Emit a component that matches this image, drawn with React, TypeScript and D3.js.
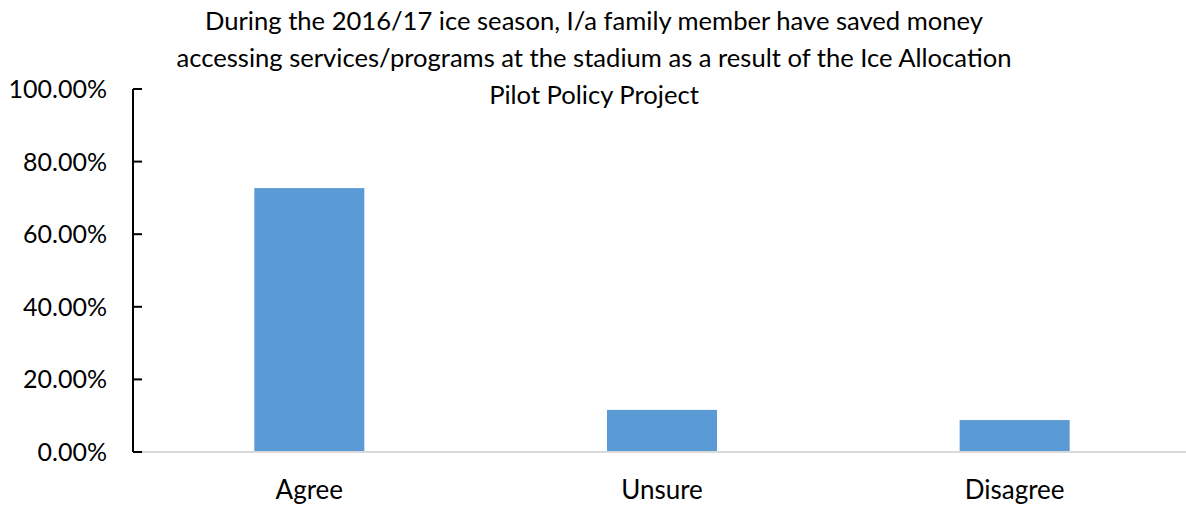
import React from "react";
import * as d3 from "d3";

const categories = ["Agree", "Unsure", "Disagree"];
const values = [0.727, 0.116, 0.088];
const yTicks = [0, 0.2, 0.4, 0.6, 0.8, 1.0];
const titleLines = [
  "During the 2016/17 ice season, I/a family member have saved money",
  "accessing services/programs at the stadium as a result of the Ice Allocation",
  "Pilot Policy Project",
];

const W = 1186;
const H = 506;
const FONT = "Lato, 'Open Sans', sans-serif";

export default function App() {
  const x = d3.scaleBand<string>().domain(categories).range([133, 1191]).paddingInner(0.688).paddingOuter(0.344);
  const y = d3.scaleLinear().domain([0, 1]).range([452, 89]);
  const fmt = d3.format(".2%");
  return (
    <svg width={W} height={H} style={{ position: "absolute", left: 0, top: 0, background: "#fff" }} fontFamily={FONT}>
      {titleLines.map((t, i) => (
        <text key={i} x={594} y={30 + i * 37} textAnchor="middle" fontSize={25.6} fill="#000">
          {t}
        </text>
      ))}
      {categories.map((c, i) => (
        <rect key={c} x={x(c)} y={y(values[i])} width={x.bandwidth()} height={y(0) - y(values[i])} fill="#5b9bd5" />
      ))}
      <line x1={133} x2={W} y1={y(0)} y2={y(0)} stroke="#d9d9d9" strokeWidth={2} />
      <line x1={133} x2={133} y1={y(1)} y2={y(0)} stroke="#000" strokeWidth={2} />
      {yTicks.map((t) => (
        <g key={t}>
          <line x1={133} x2={142} y1={y(t)} y2={y(t)} stroke="#000" strokeWidth={2} />
          <text x={107} y={y(t) + 9} textAnchor="end" fontSize={25} fill="#000">
            {fmt(t)}
          </text>
        </g>
      ))}
      {categories.map((c) => (
        <text key={c} x={(x(c) as number) + x.bandwidth() / 2} y={499} textAnchor="middle" fontSize={26} fill="#000">
          {c}
        </text>
      ))}
    </svg>
  );
}
